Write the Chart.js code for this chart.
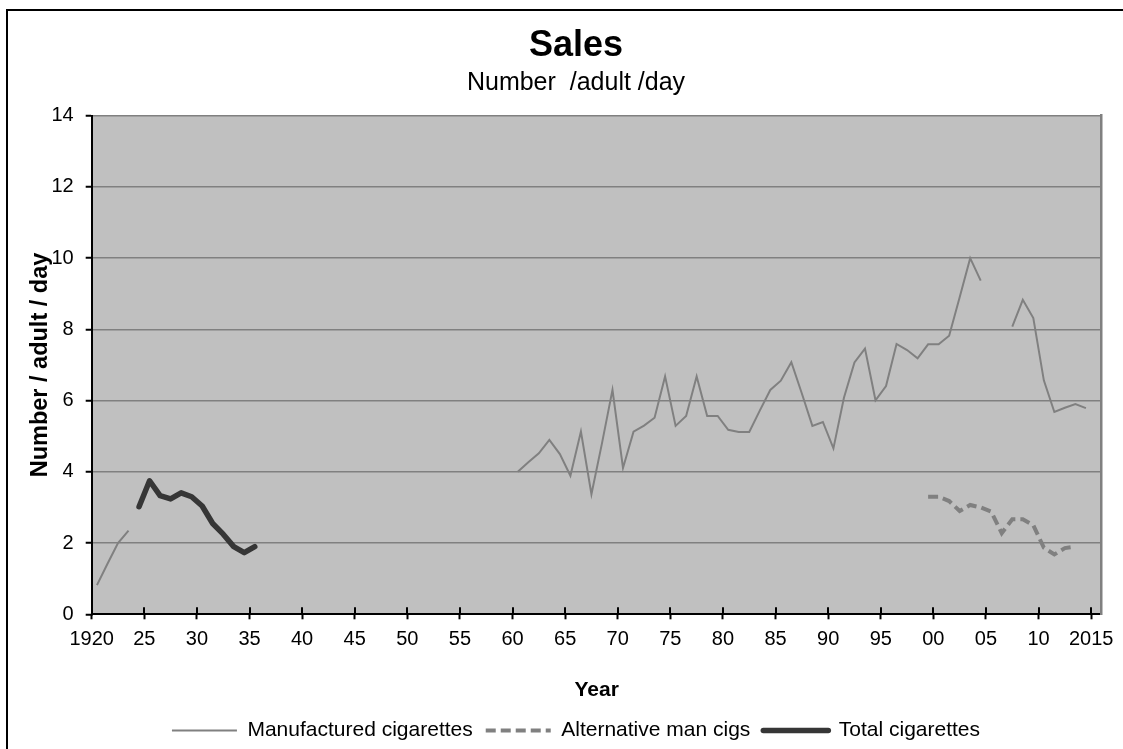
<!DOCTYPE html>
<html>
<head>
<meta charset="utf-8">
<script src="https://cdn.jsdelivr.net/npm/chart.js@4.4.1/dist/chart.umd.min.js"></script>
<style>
  html, body { margin: 0; padding: 0; background: #fff; overflow: hidden; width: 1123px; height: 749px; }
  #frame { position: absolute; left: 6px; top: 9px; width: 1136px; height: 740px; border: 2px solid #000; background: #fff; }
  canvas { display: block; }
</style>
</head>
<body>
<div id="frame"><canvas id="chart" width="1136" height="740" style="width:1136px;height:740px"></canvas></div>
<script>
// Sales of cigarettes, number per adult per day.
// A null value breaks the line (no data for that year).
const manufacturedYears = [
  1920, 1921, 1922, 1923, 1924,
  1960, 1961, 1962, 1963, 1964, 1965, 1966, 1967, 1968, 1969,
  1970, 1971, 1972, 1973, 1974, 1975, 1976, 1977, 1978, 1979,
  1980, 1981, 1982, 1983, 1984, 1985, 1986, 1987, 1988, 1989,
  1990, 1991, 1992, 1993, 1994, 1995, 1996, 1997, 1998, 1999,
  2000, 2001, 2002, 2003, 2004, 2005,
  2007, 2008, 2009, 2010, 2011, 2012, 2013, 2014
];
const manufacturedValues = [
  0.82, 1.42, 2.0, 2.35, null,
  4.0, 4.27, 4.52, 4.9, 4.5, 3.89, 5.13, 3.37, 4.8, 6.3,
  4.11, 5.13, 5.3, 5.52, 6.68, 5.29, 5.57, 6.68, 5.57, 5.57,
  5.18, 5.12, 5.12, 5.72, 6.3, 6.56, 7.08, 6.2, 5.29, 5.4,
  4.66, 6.08, 7.07, 7.46, 6.01, 6.41, 7.59, 7.42, 7.19, 7.58,
  7.58, 7.82, 8.9, 10.0, 9.37, null,
  8.08, 8.83, 8.32, 6.57, 5.68, 5.8, 5.9, 5.79
];

const alternativeYears = [1999, 2000, 2001, 2002, 2003, 2004, 2005, 2006, 2007, 2008, 2009, 2010, 2011, 2012, 2013];
const alternativeValues = [3.3, 3.3, 3.18, 2.9, 3.07, 3.0, 2.88, 2.28, 2.67, 2.67, 2.5, 1.87, 1.68, 1.86, 1.9];

const totalYears = [1924, 1925, 1926, 1927, 1928, 1929, 1930, 1931, 1932, 1933, 1934, 1935];
const totalValues = [3.02, 3.75, 3.33, 3.24, 3.41, 3.3, 3.04, 2.55, 2.25, 1.9, 1.73, 1.9];

// Year axis: tick marks every five years, labelled with short years in between.
const tickYears = [1920, 1925, 1930, 1935, 1940, 1945, 1950, 1955, 1960, 1965, 1970, 1975,
                   1980, 1985, 1990, 1995, 2000, 2005, 2010, 2015];
const tickLabels = ['1920', '25', '30', '35', '40', '45', '50', '55', '60', '65', '70', '75',
                    '80', '85', '90', '95', '00', '05', '10', '2015'];

const FONT = '"Liberation Sans", Arial, Helvetica, sans-serif';

// Each year occupies one slot on the axis; its value is plotted in the middle of the slot.
const toPoints = (yrs, vals) => yrs.map((yr, i) => ({ x: yr + 0.5, y: vals[i] }));

// Grey fill behind the plot area.
const plotBackground = {
  id: 'plotBackground',
  beforeDraw(chart) {
    const { ctx, chartArea: { left, top, width, height } } = chart;
    ctx.save();
    ctx.fillStyle = '#C0C0C0';
    ctx.fillRect(left, top, width, height);
    ctx.restore();
  }
};

// Year tick marks cross the axis: add the part that reaches into the plot.
const crossTicks = {
  id: 'crossTicks',
  beforeDatasetsDraw(chart) {
    const { ctx, chartArea } = chart;
    const xs = chart.scales.x;
    ctx.save();
    ctx.strokeStyle = '#000';
    ctx.lineWidth = 2;
    xs.ticks.forEach(t => {
      const px = Math.round(xs.getPixelForValue(t.value));
      ctx.beginPath();
      ctx.moveTo(px, chartArea.bottom);
      ctx.lineTo(px, chartArea.bottom - 7);
      ctx.stroke();
    });
    ctx.restore();
  }
};

// Legend samples drawn as short lines in each series' own stroke style.
function lineLegendLabels(chart) {
  const items = Chart.defaults.plugins.legend.labels.generateLabels(chart);
  items.forEach(item => {
    const ds = chart.data.datasets[item.datasetIndex];
    item.pointStyle = 'line';
    item.strokeStyle = ds.borderColor;
    item.fillStyle = ds.borderColor;
    item.lineWidth = ds.borderWidth;
    item.lineDash = ds.borderDash || [];
    item.lineCap = ds.borderCapStyle || 'butt';
  });
  return items;
}

new Chart(document.getElementById('chart'), {
  type: 'line',
  data: {
    datasets: [
      {
        label: 'Manufactured cigarettes',
        data: toPoints(manufacturedYears, manufacturedValues),
        borderColor: '#808080',
        backgroundColor: '#808080',
        borderWidth: 2,
        pointRadius: 0,
        tension: 0,
        spanGaps: false
      },
      {
        label: 'Alternative man cigs',
        data: toPoints(alternativeYears, alternativeValues),
        borderColor: '#808080',
        backgroundColor: '#808080',
        borderWidth: 4,
        borderDash: [10, 5],
        pointRadius: 0,
        tension: 0,
        spanGaps: false
      },
      {
        label: 'Total cigarettes',
        data: toPoints(totalYears, totalValues),
        borderColor: '#363636',
        backgroundColor: '#363636',
        borderWidth: 5.5,
        borderCapStyle: 'round',
        borderJoinStyle: 'round',
        pointRadius: 0,
        tension: 0,
        spanGaps: false
      }
    ]
  },
  options: {
    responsive: false,
    animation: false,
    devicePixelRatio: 1,
    layout: { padding: 0 },
    plugins: {
      title: {
        display: true,
        text: 'Sales',
        color: '#000',
        font: { family: FONT, size: 36, weight: 'bold' },
        padding: { top: 13.5, bottom: 0 }
      },
      subtitle: {
        display: true,
        text: 'Number  /adult /day',
        color: '#000',
        font: { family: FONT, size: 25, weight: 'normal' },
        padding: { top: 0, bottom: 18 }
      },
      legend: {
        position: 'bottom',
        labels: {
          usePointStyle: true,
          pointStyle: 'line',
          pointStyleWidth: 65,
          generateLabels: lineLegendLabels,
          color: '#000',
          font: { family: FONT, size: 21 },
          padding: 13
        }
      },
      tooltip: { enabled: false }
    },
    scales: {
      x: {
        type: 'linear',
        min: 1920,
        max: 2016,
        afterBuildTicks: s => { s.ticks = tickYears.map(v => ({ value: v })); },
        afterFit: s => { s.height = 92.7; },
        ticks: {
          autoSkip: false,
          maxRotation: 0,
          minRotation: 0,
          padding: 8,
          color: '#000',
          font: { family: FONT, size: 20 },
          callback: (v, i) => tickLabels[i]
        },
        grid: { drawOnChartArea: false, drawTicks: true, tickLength: 5, tickColor: '#000', tickWidth: 2 },
        border: { color: '#000', width: 2 },
        title: {
          display: true,
          text: 'Year',
          color: '#000',
          font: { family: FONT, size: 21, weight: 'bold' },
          padding: { top: 0, bottom: 4.4 }
        }
      },
      y: {
        min: 0,
        max: 14,
        afterFit: s => { s.width = 83.7; },
        ticks: {
          stepSize: 2,
          padding: 12,
          color: '#000',
          font: { family: FONT, size: 20 }
        },
        grid: {
          color: c => (c.tick && c.tick.value === 0 ? 'rgba(0,0,0,0)' : '#808080'),
          lineWidth: 1.5,
          tickLength: 6,
          tickColor: '#000',
          tickWidth: 2
        },
        border: { color: '#000', width: 2 },
        title: {
          display: true,
          text: 'Number / adult / day',
          color: '#000',
          font: { family: FONT, size: 23.5, weight: 'bold' },
          padding: { top: 18, bottom: 0 }
        }
      },
      y2: {
        position: 'right',
        min: 0,
        max: 14,
        afterFit: s => { s.width = 42.3; },
        ticks: { display: false },
        grid: { drawOnChartArea: false, drawTicks: false },
        border: { color: '#808080', width: 2.5 }
      }
    }
  },
  plugins: [plotBackground, crossTicks]
});
</script>
</body>
</html>
